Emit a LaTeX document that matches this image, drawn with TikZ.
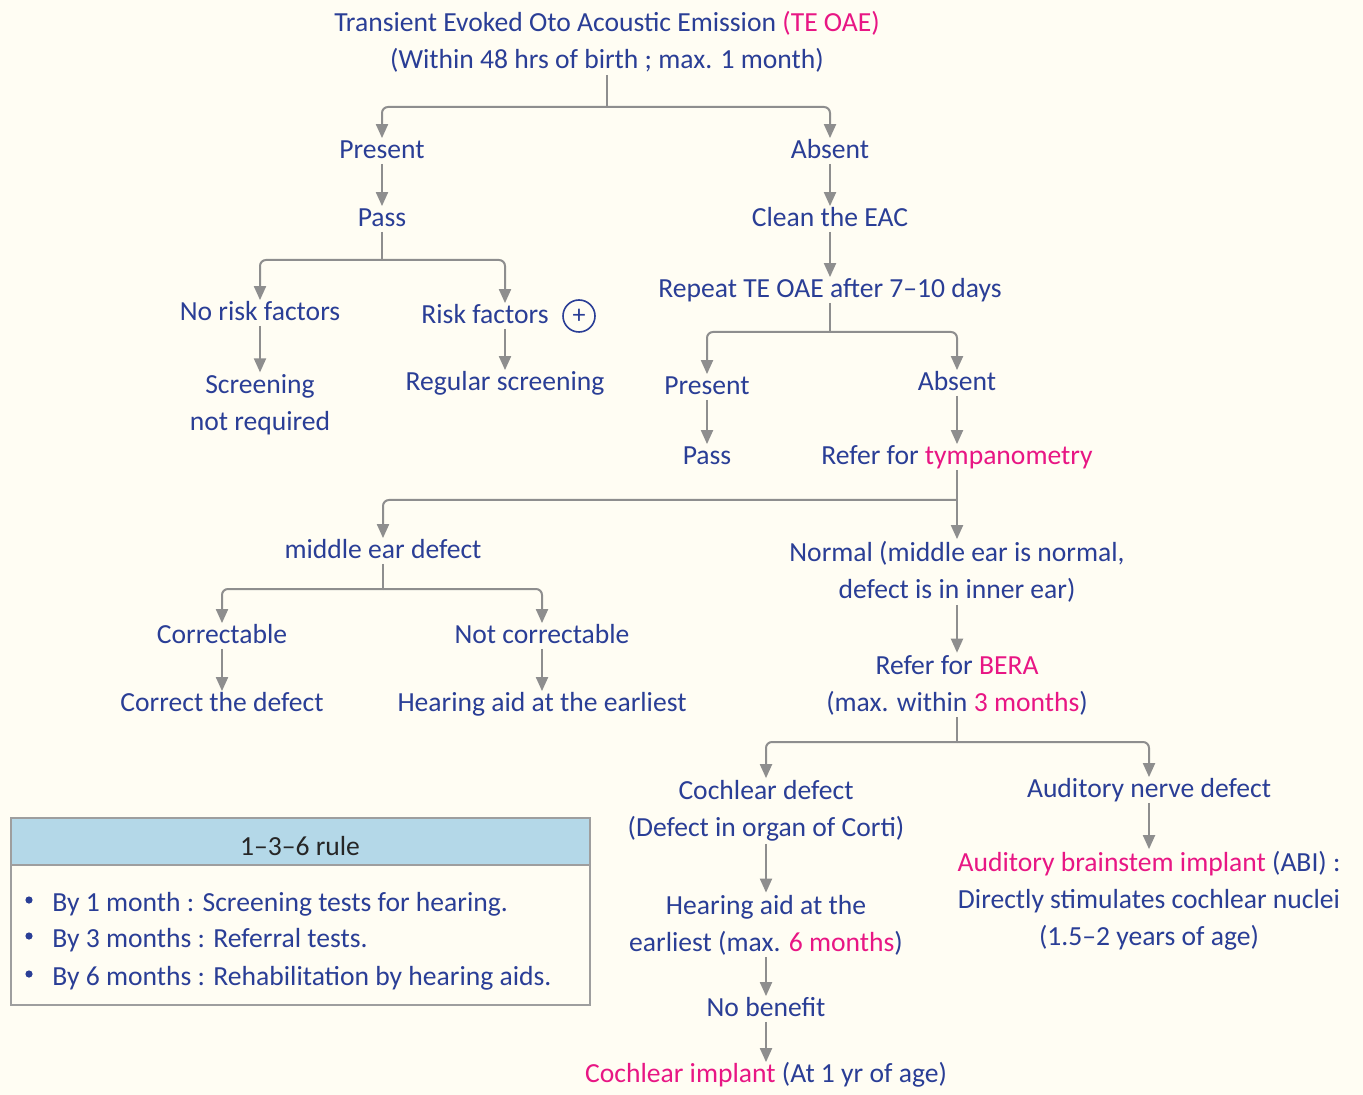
\documentclass[tikz,border=0pt]{standalone}
\usepackage{fontspec}
\setmainfont{Carlito}
\usetikzlibrary{arrows.meta}

\definecolor{navy}{RGB}{42,62,150}
\definecolor{hotpink}{RGB}{232,22,132}
\definecolor{linegray}{RGB}{142,142,142}
\definecolor{cream}{RGB}{255,253,243}
\definecolor{headblue}{RGB}{180,216,232}
\definecolor{boxgray}{RGB}{158,158,158}
\newcommand{\pk}[1]{\textcolor{hotpink}{#1}}

\begin{document}
\begin{tikzpicture}[x=0.5pt, y=-0.5pt,
    lbl/.style={text=navy, font=\fontsize{13.8}{18.5}\selectfont, align=center, inner sep=1pt},
    one/.style={lbl, text height=10pt, text depth=2.5pt, inner ysep=0pt},
    link/.style={draw=linegray, line width=1pt, rounded corners=3pt},
    arr/.style={link, -{Triangle[length=7pt,width=6pt]}}]

    % Page
    \useasboundingbox (0,0) rectangle (1363,1095);
    \fill[cream] (0,0) rectangle (1363,1095);

    % Screening test
    \node[lbl] (title) at (607,42) {Transient Evoked Oto Acoustic Emission \pk{(TE OAE)}\\(Within 48 hrs of birth ; max. 1 month)};
    \node[one] (present1) at (382,151) {Present};
    \node[one] (absent1) at (830,151) {Absent};

    % Present side
    \node[one] (pass1) at (382,219) {Pass};
    \node[one] (norisk) at (260,313) {No risk factors};
    \node[one] (risk) at (505,316) {Risk factors\hspace{20pt}};
    \node[circle, draw=navy, line width=0.8pt, inner sep=0pt, minimum size=16pt, text=navy,
          font=\fontsize{13}{14}\selectfont] (plus) at (579,316) {+};
    \node[lbl] (screen) at (260,405) {Screening\\not required};
    \node[one] (regular) at (505,383) {Regular screening};

    % Absent side
    \node[one] (clean) at (830,219) {Clean the EAC};
    \node[one] (repeat) at (830,290) {Repeat TE OAE after 7--10 days};
    \node[one] (present2) at (707,387) {Present};
    \node[one] (absent2) at (957,383) {Absent};
    \node[one] (pass2) at (707,457) {Pass};
    \node[one] (tympano) at (957,457) {Refer for \pk{tympanometry}};

    % Tympanometry
    \node[one] (middle) at (383,551) {middle ear defect};
    \node[lbl] (normal) at (957,572) {Normal (middle ear is normal,\\defect is in inner ear)};
    \node[one] (correctable) at (222,636) {Correctable};
    \node[one] (notcorr) at (542,636) {Not correctable};
    \node[one] (correct) at (222,704) {Correct the defect};
    \node[one] (hearing1) at (542,704) {Hearing aid at the earliest};

    % BERA
    \node[lbl] (bera) at (957,685) {Refer for \pk{BERA}\\(max. within \pk{3 months})};
    \node[lbl] (cochlear) at (766,811) {Cochlear defect\\(Defect in organ of Corti)};
    \node[one] (nerve) at (1149,790) {Auditory nerve defect};
    \node[lbl] (abi) at (1149,901) {\pk{Auditory brainstem implant} (ABI) :\\Directly stimulates cochlear nuclei\\(1.5--2 years of age)};
    \node[lbl] (hearing2) at (766,925) {Hearing aid at the\\earliest (max. \pk{6 months})};
    \node[one] (nobenefit) at (766,1009) {No benefit};
    \node[one] (implant) at (766,1075) {\pk{Cochlear implant} (At 1 yr of age)};

    % Split points
    \coordinate (s1) at (607,107);
    \coordinate (s2) at (382,260);
    \coordinate (s3) at (830,332);
    \coordinate (s4) at (957,500);
    \coordinate (s5) at (383,589);
    \coordinate (s6) at (957,742);

    % Connectors
    \draw[link] (title.south) -- (s1);
    \draw[arr] (s1) -| (present1.north);
    \draw[arr] (s1) -| (absent1.north);
    \draw[arr] (present1) -- (pass1);
    \draw[link] (pass1.south) -- (s2);
    \draw[arr] (s2) -| (norisk.north);
    \draw[arr] (s2) -| (risk.north);
    \draw[arr] (norisk) -- (screen);
    \draw[arr] (risk) -- (regular);
    \draw[arr] (absent1) -- (clean);
    \draw[arr] (clean) -- (repeat);
    \draw[link] (repeat.south) -- (s3);
    \draw[arr] (s3) -| (present2.north);
    \draw[arr] (s3) -| (absent2.north);
    \draw[arr] (present2) -- (pass2);
    \draw[arr] (absent2) -- (tympano);
    \draw[arr] (tympano) -- (normal);
    \draw[arr] (s4) -| (middle.north);
    \draw[link] (middle.south) -- (s5);
    \draw[arr] (s5) -| (correctable.north);
    \draw[arr] (s5) -| (notcorr.north);
    \draw[arr] (correctable) -- (correct);
    \draw[arr] (notcorr) -- (hearing1);
    \draw[arr] (normal) -- (bera);
    \draw[link] (bera.south) -- (s6);
    \draw[arr] (s6) -| (cochlear.north);
    \draw[arr] (s6) -| (nerve.north);
    \draw[arr] (nerve) -- (abi);
    \draw[arr] (cochlear) -- (hearing2);
    \draw[arr] (hearing2) -- (nobenefit);
    \draw[arr] (nobenefit) -- (implant);

    % 1-3-6 rule box
    \fill[headblue] (11,818) rectangle (590,865);
    \draw[boxgray, line width=1pt] (11,818) rectangle (590,1005);
    \draw[boxgray, line width=1pt] (11,865) -- (590,865);
    \node[lbl, text=black!85] (ruletitle) at (300,846) {1--3--6 rule};
    \foreach \i/\y/\t in {1/904/{By 1 month : Screening tests for hearing.},
                          2/940/{By 3 months : Referral tests.},
                          3/978/{By 6 months : Rehabilitation by hearing aids.}} {
        \fill[navy] (29,\y-4) circle (1.8pt);
        \node[lbl, anchor=west] (rule\i) at (50,\y) {\t};
    }
\end{tikzpicture}
\end{document}
